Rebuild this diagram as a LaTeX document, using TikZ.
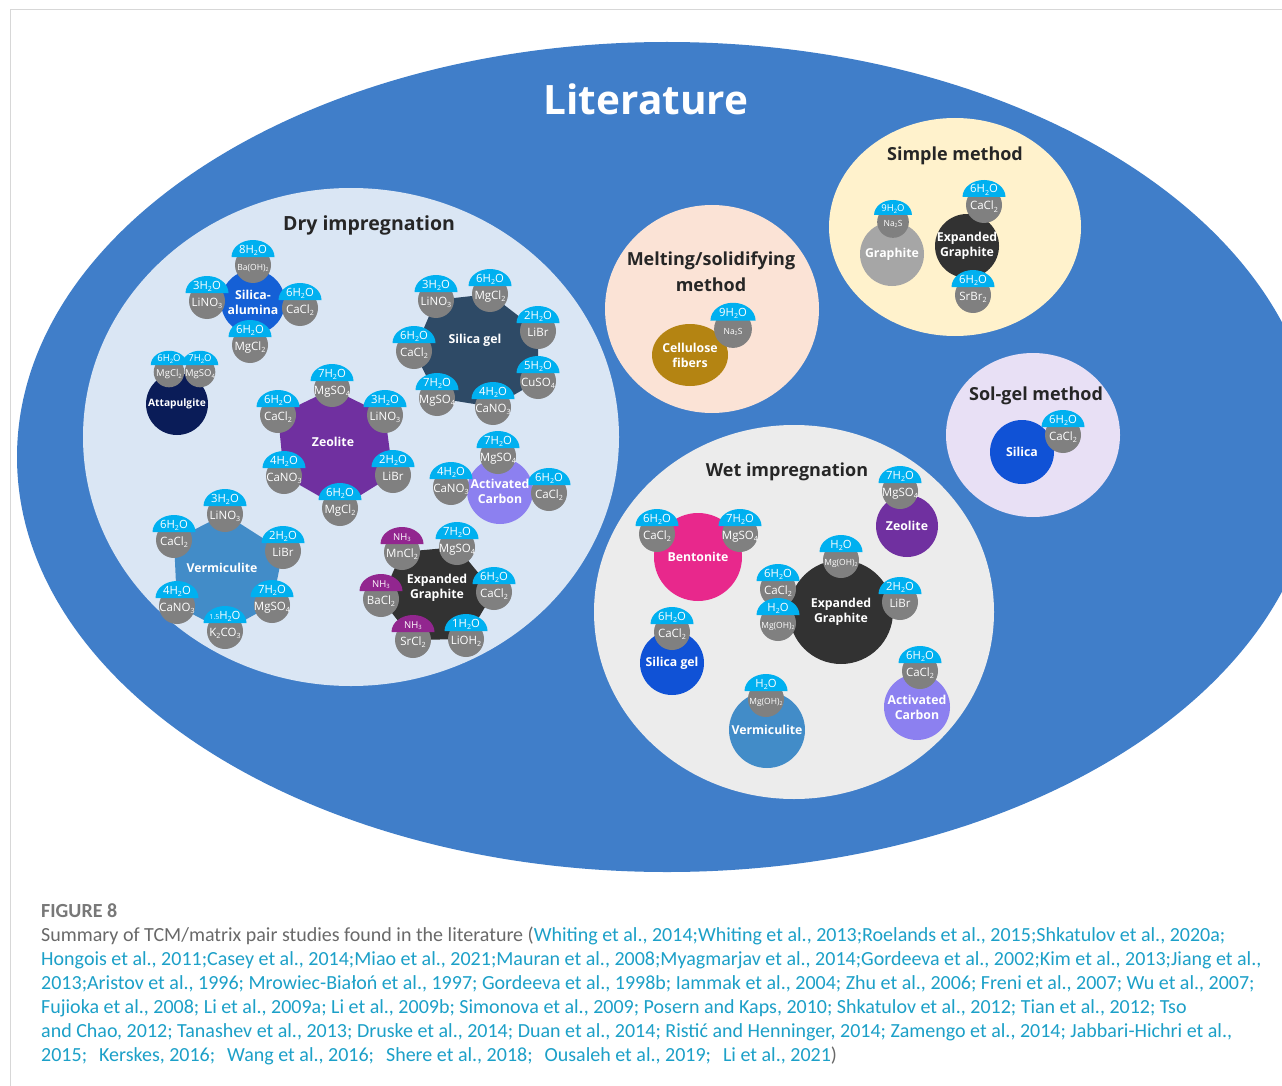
\documentclass[tikz,border=0pt]{standalone}
\usepackage{fontspec}
\usepackage{graphicx}
\setmainfont{Open Sans}
\newfontfamily\capfont{Carlito}
\usetikzlibrary{calc,shapes.geometric}
\pgfdeclarelayer{bg}
\pgfdeclarelayer{mid}
\pgfdeclarelayer{top}
\pgfsetlayers{bg,mid,main,top}

\definecolor{bigblue}{RGB}{64,126,201}
\definecolor{dryfill}{RGB}{218,230,244}
\definecolor{meltfill}{RGB}{251,227,214}
\definecolor{simplefill}{RGB}{255,242,204}
\definecolor{solfill}{RGB}{232,224,245}
\definecolor{wetfill}{RGB}{236,236,236}
\definecolor{saltgray}{RGB}{128,128,128}
\definecolor{waterblue}{RGB}{0,176,240}
\definecolor{nhpurple}{RGB}{146,38,143}
\definecolor{salublue}{RGB}{21,96,214}
\definecolor{gelslate}{RGB}{46,74,102}
\definecolor{zeopurple}{RGB}{112,48,160}
\definecolor{vermblue}{RGB}{66,140,200}
\definecolor{egdark}{RGB}{50,50,50}
\definecolor{acviolet}{RGB}{140,128,240}
\definecolor{attnavy}{RGB}{10,28,88}
\definecolor{cellbrown}{RGB}{180,132,18}
\definecolor{graphgray}{RGB}{166,166,166}
\definecolor{bentpink}{RGB}{232,40,140}
\definecolor{silblue}{RGB}{16,82,214}
\definecolor{titledark}{RGB}{38,38,38}
\definecolor{capgray}{RGB}{105,105,105}
\definecolor{capteal}{RGB}{28,160,200}
\definecolor{framegray}{RGB}{215,215,215}

\newcommand\sbs[1]{\raisebox{-0.35ex}{\scalebox{0.62}{#1}}}
\newcommand\wat[1]{#1H\sbs{2}O}
\newcommand\tinysalt{\fontsize{8.5}{8.5}\selectfont}
\newcommand\smallcap{\fontsize{9.5}{9.5}\selectfont}
\newcommand\nh{{\smallcap NH\sbs{3}}}
\newcommand\semigap{\hspace{12pt}}

\tikzset{
  saltdisc/.style={circle, fill=saltgray, inner sep=0pt},
  blab/.style={text=white, inner sep=0pt, anchor=base},
  watlab/.style={blab, font=\fontsize{11.3}{11.3}\selectfont},
  saltlab/.style={blab, font=\fontsize{11.5}{11.5}\selectfont},
  matdisc/.style={circle, inner sep=0pt},
  matlab/.style={text=white, align=center, inner sep=0pt, font=\bfseries\fontsize{12.3}{15}\selectfont},
  secttitle/.style={text=titledark, align=center, inner sep=0pt, font=\bfseries\fontsize{18}{26}\selectfont},
  capline/.style={anchor=base west, inner sep=0pt, font=\capfont\fontsize{20}{20}\selectfont, text=capteal},
}

% salt disc with a water (or ammonia) cap on top
\newcommand\badge[7][waterblue]{%
  \node[saltdisc, minimum size=#5*36pt] (#2) at (#3,-#4) {};
  \fill[#1] ($(#2.center)+(-#5*21.5pt,#5*8pt)$) arc[start angle=180, end angle=0, x radius=#5*21.5pt, y radius=#5*17pt] -- cycle;
  \node[watlab] (#2w) at ($(#2.center)+(0,#5*12pt)$) {#6};
  \node[saltlab] (#2s) at ($(#2.center)+(0,-#5*5pt)$) {#7};
}

% round carrier matrix with its label
\newcommand\carrier[6]{%
  \begin{pgfonlayer}{mid}
    \node[matdisc, fill=#5, minimum size=2*#4pt] (#1) at (#2,-#3) {};
  \end{pgfonlayer}
  \begin{pgfonlayer}{top}
    \node[matlab] (#1t) at (#2,-#3) {#6};
  \end{pgfonlayer}
}

\begin{document}
\begin{tikzpicture}[x=1pt,y=1pt]
\useasboundingbox (0,0) rectangle (1282,-1086);

\begin{pgfonlayer}{bg}
  \fill[white] (0,0) rectangle (1282,-1086);
  \draw[framegray, line width=1pt] (10,-1086) -- (10,-10) -- (1282,-10);
  \begin{scope}
    \clip (0,0) rectangle (1282,-1086);
    \fill[bigblue] (667,-457) ellipse[x radius=650, y radius=415];
  \end{scope}
  \fill[dryfill] (351,-437) ellipse[x radius=268, y radius=249];
  \fill[meltfill] (712,-309) ellipse[x radius=107, y radius=104];
  \fill[simplefill] (955,-227) ellipse[x radius=126, y radius=109];
  \fill[solfill] (1033,-435) ellipse[x radius=87, y radius=82];
  \fill[wetfill] (794,-612) ellipse[x radius=200, y radius=187];
\end{pgfonlayer}

% titles
\node[text=white, inner sep=0pt, font=\bfseries\fontsize{40.5}{44}\selectfont] (tLit) at (646,-99) {Literature};
\node[secttitle, font=\bfseries\fontsize{19.5}{26}\selectfont] (tDry) at (369,-225) {Dry impregnation};
\node[secttitle] (tMelt) at (711,-272) {Melting/solidifying\\method};
\node[secttitle] (tSimp) at (955,-156) {Simple method};
\node[secttitle] (tSol) at (1036,-396) {Sol-gel method};
\node[secttitle] (tWet) at (787,-472) {Wet impregnation};

% ---------- dry impregnation ----------
\carrier{salu}{253}{302}{32}{salublue}{Silica-\\alumina}
\badge{saBa}{253}{265}{1}{\wat{8}}{\tinysalt Ba(OH)\sbs{2}}
\badge{saLi}{207}{301}{1}{\wat{3}}{LiNO\sbs{3}}
\badge{saCa}{300}{308}{1}{\wat{6}}{CaCl\sbs{2}}
\badge{saMg}{250}{345}{1}{\wat{6}}{MgCl\sbs{2}}

\carrier{atta}{177}{404}{31}{attnavy}{\fontsize{10.2}{13}\selectfont Attapulgite}
\badge{atMg}{169}{372}{0.85}{\smallcap\wat{6}}{\smallcap MgCl\sbs{2}}
\badge{atMs}{200}{372}{0.85}{\smallcap\wat{7}}{\smallcap MgSO\sbs{4}}

\badge{sgLi}{436}{300}{1}{\wat{3}}{LiNO\sbs{3}}
\badge{sgMc}{490}{294}{1}{\wat{6}}{MgCl\sbs{2}}
\badge{sgLb}{538}{331}{1}{\wat{2}}{LiBr}
\badge{sgCu}{538}{381}{1}{\wat{5}}{CuSO\sbs{4}}
\badge{sgCn}{493}{407}{1}{\wat{4}}{CaNO\sbs{3}}
\badge{sgMs}{437}{398}{1}{\wat{7}}{MgSO\sbs{4}}
\badge{sgCa}{414}{351}{1}{\wat{6}}{CaCl\sbs{2}}
\begin{pgfonlayer}{mid}
  \fill[gelslate] (sgLi.center) -- (sgMc.center) -- (sgLb.center) -- (sgCu.center) -- (sgCn.center) -- (sgMs.center) -- (sgCa.center) -- cycle;
\end{pgfonlayer}
\begin{pgfonlayer}{top}
  \node[matlab] (sgT) at (475,-340) {Silica gel};
\end{pgfonlayer}

\badge{zeMs}{332}{389}{1}{\wat{7}}{MgSO\sbs{4}}
\badge{zeLi}{385}{415}{1}{\wat{3}}{LiNO\sbs{3}}
\badge{zeLb}{393}{475}{1}{\wat{2}}{LiBr}
\badge{zeMc}{340}{508}{1}{\wat{6}}{MgCl\sbs{2}}
\badge{zeCn}{284}{476}{1}{\wat{4}}{CaNO\sbs{3}}
\badge{zeCa}{278}{415}{1}{\wat{6}}{CaCl\sbs{2}}
\begin{pgfonlayer}{mid}
  \fill[zeopurple] (zeMs.center) -- (zeLi.center) -- (zeLb.center) -- (zeMc.center) -- (zeCn.center) -- (zeCa.center) -- cycle;
\end{pgfonlayer}
\begin{pgfonlayer}{top}
  \node[matlab] (zeT) at (333,-442) {Zeolite};
\end{pgfonlayer}

\carrier{acd}{500}{491}{33}{acviolet}{Activated\\Carbon}
\badge{acMs}{498}{456}{1}{\wat{7}}{MgSO\sbs{4}}
\badge{acCn}{451}{487}{1}{\wat{4}}{CaNO\sbs{3}}
\badge{acCa}{549}{493}{1}{\wat{6}}{CaCl\sbs{2}}

\badge{veLi}{225}{514}{1}{\wat{3}}{LiNO\sbs{3}}
\badge{veLb}{283}{551}{1}{\wat{2}}{LiBr}
\badge{veMs}{272}{605}{1}{\wat{7}}{MgSO\sbs{4}}
\badge{veK}{225}{631}{1}{\scalebox{0.62}{1.5}H\sbs{2}O}{K\sbs{2}CO\sbs{3}}
\badge{veCn}{177}{606}{1}{\wat{4}}{CaNO\sbs{3}}
\badge{veCa}{174}{540}{1}{\wat{6}}{CaCl\sbs{2}}
\begin{pgfonlayer}{mid}
  \fill[vermblue] (veLi.center) -- (veLb.center) -- (veMs.center) -- (veK.center) -- (veCn.center) -- (veCa.center) -- cycle;
\end{pgfonlayer}
\begin{pgfonlayer}{top}
  \node[matlab] (veT) at (222,-568) {Vermiculite};
\end{pgfonlayer}

\badge[nhpurple]{egMn}{402}{552}{1}{\nh}{MnCl\sbs{2}}
\badge{egMs}{457}{547}{1}{\wat{7}}{MgSO\sbs{4}}
\badge{egCa}{494}{592}{1}{\wat{6}}{CaCl\sbs{2}}
\badge{egLi}{466}{639}{1}{\wat{1}}{LiOH\sbs{2}}
\badge[nhpurple]{egSr}{413}{640}{1}{\nh}{SrCl\sbs{2}}
\badge[nhpurple]{egBa}{381}{599}{1}{\nh}{BaCl\sbs{2}}
\begin{pgfonlayer}{mid}
  \fill[egdark] (egMn.center) -- (egMs.center) -- (egCa.center) -- (egLi.center) -- (egSr.center) -- (egBa.center) -- cycle;
\end{pgfonlayer}
\begin{pgfonlayer}{top}
  \node[matlab] (egT) at (437,-588) {Expanded\\Graphite};
\end{pgfonlayer}

% ---------- melting / solidifying ----------
\begin{pgfonlayer}{mid}
  \node[ellipse, fill=cellbrown, inner sep=0pt, minimum width=76pt, minimum height=62pt] (cel) at (690,-355) {};
\end{pgfonlayer}
\begin{pgfonlayer}{top}
  \node[matlab] (celT) at (690,-355) {Cellulose\\fibers};
\end{pgfonlayer}
\badge{mlNa}{733}{329}{1.05}{\wat{9}}{\tinysalt Na\sbs{2}S}

% ---------- simple method ----------
\carrier{gra}{892}{254}{32}{graphgray}{Graphite}
\badge{smNa}{893}{222}{0.88}{\smallcap\wat{9}}{\tinysalt Na\sbs{2}S}
\carrier{seg}{967}{246}{32}{egdark}{Expanded\\Graphite}
\badge{smCa}{984}{205}{1}{\wat{6}}{CaCl\sbs{2}}
\badge{smSr}{973}{295}{1}{\wat{6}}{SrBr\sbs{2}}

% ---------- sol-gel ----------
\carrier{sil}{1022}{452}{32}{silblue}{Silica}
\badge{slCa}{1063}{435}{1}{\wat{6}}{CaCl\sbs{2}}

% ---------- wet impregnation ----------
\carrier{ben}{698}{557}{44}{bentpink}{Bentonite}
\badge{bnCa}{657}{534}{1}{\wat{6}}{CaCl\sbs{2}}
\badge{bnMs}{740}{534}{1}{\wat{7}}{MgSO\sbs{4}}

\carrier{wsg}{672}{663}{32}{silblue}{Silica gel}
\badge{wsCa}{672}{632}{1}{\wat{6}}{CaCl\sbs{2}}

\carrier{weg}{841}{612}{52}{egdark}{Expanded\\Graphite}
\badge{wgMt}{841}{560}{1}{H\sbs{2}O}{\tinysalt Mg(OH)\sbs{2}}
\badge{wgCa}{778}{589}{1}{\wat{6}}{CaCl\sbs{2}}
\badge{wgMl}{778}{623}{1}{H\sbs{2}O}{\tinysalt Mg(OH)\sbs{2}}
\badge{wgLb}{900}{602}{1}{\wat{2}}{LiBr}

\carrier{wze}{907}{526}{31}{zeopurple}{Zeolite}
\badge{wzMs}{900}{491}{1}{\wat{7}}{MgSO\sbs{4}}

\carrier{wac}{917}{707}{33}{acviolet}{Activated\\Carbon}
\badge{waCa}{920}{671}{1}{\wat{6}}{CaCl\sbs{2}}

\carrier{wve}{767}{730}{38}{vermblue}{Vermiculite}
\badge{wvMg}{766}{699}{1}{H\sbs{2}O}{\tinysalt Mg(OH)\sbs{2}}

% ---------- caption ----------
\node[capline, text=capgray!90, font=\capfont\bfseries\fontsize{20}{20}\selectfont] (fig) at (41,-917) {FIGURE 8};
\node[capline] (c1) at (41,-941) {\textcolor{capgray}{Summary of TCM/matrix pair studies found in the literature (}Whiting et al., 2014;Whiting et al., 2013;Roelands et al., 2015;Shkatulov et al., 2020a;};
\node[capline] (c2) at (41,-965) {Hongois et al., 2011;Casey et al., 2014;Miao et al., 2021;Mauran et al., 2008;Myagmarjav et al., 2014;Gordeeva et al., 2002;Kim et al., 2013;Jiang et al.,};
\node[capline] (c3) at (41,-989) {2013;Aristov et al., 1996; Mrowiec-Białoń et al., 1997; Gordeeva et al., 1998b; Iammak et al., 2004; Zhu et al., 2006; Freni et al., 2007; Wu et al., 2007;};
\node[capline] (c4) at (41,-1013) {Fujioka et al., 2008; Li et al., 2009a; Li et al., 2009b; Simonova et al., 2009; Posern and Kaps, 2010; Shkatulov et al., 2012; Tian et al., 2012; Tso};
\node[capline] (c5) at (41,-1037) {and Chao, 2012; Tanashev et al., 2013; Druske et al., 2014; Duan et al., 2014; Ristić and Henninger, 2014; Zamengo et al., 2014; Jabbari-Hichri et al.,};
\node[capline] (c6) at (41,-1061) {2015;\semigap Kerskes, 2016;\semigap Wang et al., 2016;\semigap Shere et al., 2018;\semigap Ousaleh et al., 2019;\semigap Li et al., 2021\textcolor{capgray}{)}};
\end{tikzpicture}
\end{document}
